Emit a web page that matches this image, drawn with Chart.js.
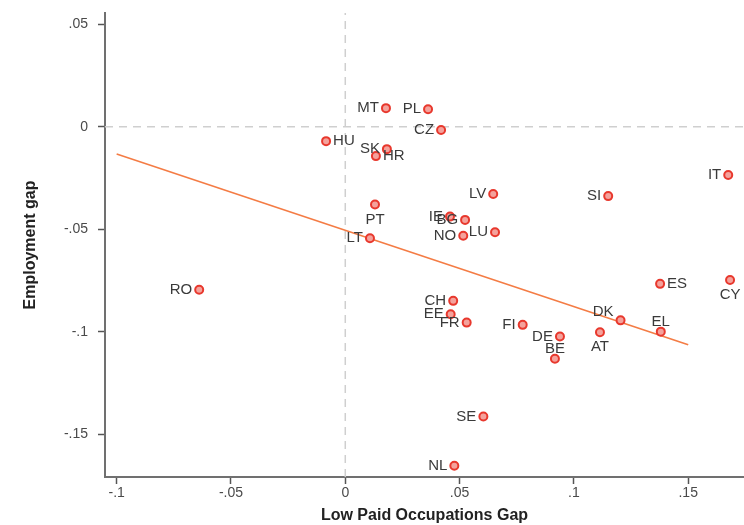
<!DOCTYPE html>
<html>
<head>
<meta charset="utf-8">
<script src="https://cdn.jsdelivr.net/npm/chart.js@4/dist/chart.umd.min.js"></script>
<style>
  html, body { margin: 0; padding: 0; background: #ffffff; }
  #wrap { width: 744px; height: 525px; }
</style>
</head>
<body>
<div id="wrap"><canvas id="c" width="744" height="525"></canvas></div>
<script>
// Country codes with their low-paid occupations gap (x) and employment gap (y)
const countries = ['MT','PL','CZ','HU','SK','HR','PT','LT','RO','LV','IE','BG','NO','LU','SI',
                   'IT','ES','CY','DK','EL','AT','CH','EE','FR','FI','DE','BE','SE','NL'];
const lowPaidGap = [0.0178, 0.0362, 0.0419, -0.0084, 0.0182, 0.0134, 0.0130, 0.0108, -0.0639, 0.0647,
                    0.0458, 0.0524, 0.0516, 0.0655, 0.1150, 0.1675, 0.1377, 0.1683, 0.1204, 0.1380,
                    0.1114, 0.0472, 0.0461, 0.0531, 0.0776, 0.0939, 0.0917, 0.0604, 0.0477];
const employmentGap = [0.0091, 0.0086, -0.0016, -0.0070, -0.0109, -0.0143, -0.0379, -0.0544, -0.0795, -0.0328,
                       -0.0438, -0.0454, -0.0531, -0.0514, -0.0338, -0.0235, -0.0766, -0.0747, -0.0944, -0.0999,
                       -0.1002, -0.0849, -0.0914, -0.0955, -0.0966, -0.1023, -0.1131, -0.1413, -0.1653];

// Fitted line end points
const fitX = [-0.1, 0.15];
const fitY = [-0.0133, -0.1063];

// Axis ranges and ticks
const xRange = [-0.1051, 0.1744];
const yRange = [-0.1708, 0.0555];
const xTicks = [-0.1, -0.05, 0, 0.05, 0.1, 0.15];
const xTickLabels = ['-.1', '-.05', '0', '.05', '.1', '.15'];
const yTicks = [-0.15, -0.1, -0.05, 0, 0.05];
const yTickLabels = ['-.15', '-.1', '-.05', '0', '.05'];

// Where each country label sits relative to its marker
const labelSide = {
  HU: 'right', HR: 'right', ES: 'right',
  PT: 'below', CY: 'below', AT: 'below',
  EL: 'above', BE: 'above',
  DK: 'upleft'
};

const points = countries.map((c, i) => ({ x: lowPaidGap[i], y: employmentGap[i] }));
const fitLine = fitX.map((x, i) => ({ x: x, y: fitY[i] }));
const zeroV = [{ x: 0, y: yRange[0] }, { x: 0, y: yRange[1] }];
const zeroH = [{ x: xRange[0], y: 0 }, { x: xRange[1], y: 0 }];

const LABEL_FONT = '15px "Liberation Sans", Arial, sans-serif';

const pointLabels = {
  id: 'pointLabels',
  afterDatasetsDraw(chart) {
    const meta = chart.getDatasetMeta(0);
    const ctx = chart.ctx;
    ctx.save();
    ctx.font = LABEL_FONT;
    ctx.fillStyle = '#3a3a3a';
    meta.data.forEach((el, i) => {
      const code = countries[i];
      const side = labelSide[code] || 'left';
      let tx = el.x, ty = el.y;
      ctx.textBaseline = 'middle';
      if (side === 'left') { ctx.textAlign = 'right'; tx = el.x - 7; }
      else if (side === 'right') { ctx.textAlign = 'left'; tx = el.x + 7; }
      else if (side === 'below') { ctx.textAlign = 'center'; ty = el.y + 15; }
      else if (side === 'above') { ctx.textAlign = 'center'; ty = el.y - 10; }
      else if (side === 'upleft') { ctx.textAlign = 'right'; tx = el.x - 7; ty = el.y - 8; }
      ctx.fillText(code, tx, ty);
    });
    ctx.restore();
  }
};

const tickFont = { family: '"Liberation Sans", Arial, sans-serif', size: 14 };
const titleFont = { family: '"Liberation Sans", Arial, sans-serif', size: 16, weight: 'bold' };

new Chart(document.getElementById('c'), {
  type: 'scatter',
  data: {
    datasets: [
      {
        label: 'Countries',
        data: points,
        pointRadius: 4,
        pointHoverRadius: 4,
        borderWidth: 2,
        borderColor: '#e8382d',
        backgroundColor: '#f4a29c'
      },
      {
        type: 'line',
        label: 'Fit',
        data: fitLine,
        borderColor: '#f47c45',
        borderWidth: 1.6,
        pointRadius: 0,
        fill: false
      },
      {
        type: 'line',
        label: 'x = 0',
        data: zeroV,
        borderColor: '#cfcfcf',
        borderWidth: 1.5,
        borderDash: [8, 6],
        pointRadius: 0,
        fill: false
      },
      {
        type: 'line',
        label: 'y = 0',
        data: zeroH,
        borderColor: '#cfcfcf',
        borderWidth: 1.5,
        borderDash: [8, 6],
        pointRadius: 0,
        fill: false
      }
    ]
  },
  options: {
    responsive: false,
    animation: false,
    layout: { autoPadding: false, padding: { top: 13, right: 0, bottom: 0, left: 0 } },
    plugins: { legend: { display: false }, tooltip: { enabled: false } },
    scales: {
      x: {
        type: 'linear',
        min: xRange[0],
        max: xRange[1],
        afterBuildTicks: (axis) => { axis.ticks = xTicks.map(v => ({ value: v })); },
        afterFit: (scale) => { scale.height = 48; scale.paddingLeft = 0; scale.paddingRight = 0; },
        ticks: {
          autoSkip: false,
          maxRotation: 0,
          padding: 1,
          color: '#4a4a4a',
          font: tickFont,
          callback: (v) => xTickLabels[xTicks.indexOf(v)]
        },
        grid: { drawOnChartArea: false, drawTicks: true, tickLength: 7, tickColor: '#555555', tickWidth: 1.5 },
        border: { color: '#707070', width: 2 },
        title: { display: true, text: 'Low Paid Occupations Gap', color: '#222222', font: titleFont, padding: { top: 0, bottom: 0 } }
      },
      y: {
        type: 'linear',
        min: yRange[0],
        max: yRange[1],
        afterBuildTicks: (axis) => { axis.ticks = yTicks.map(v => ({ value: v })); },
        afterFit: (scale) => { scale.width = 105; scale.paddingTop = 0; scale.paddingBottom = 0; },
        ticks: {
          autoSkip: false,
          padding: 10,
          color: '#4a4a4a',
          font: tickFont,
          callback: (v) => yTickLabels[yTicks.indexOf(v)]
        },
        grid: { drawOnChartArea: false, drawTicks: true, tickLength: 7, tickColor: '#555555', tickWidth: 1.5 },
        border: { color: '#707070', width: 2 },
        title: { display: true, text: 'Employment gap', color: '#222222', font: titleFont, padding: { top: 21, bottom: 0 } }
      }
    }
  },
  plugins: [pointLabels]
});
</script>
</body>
</html>
